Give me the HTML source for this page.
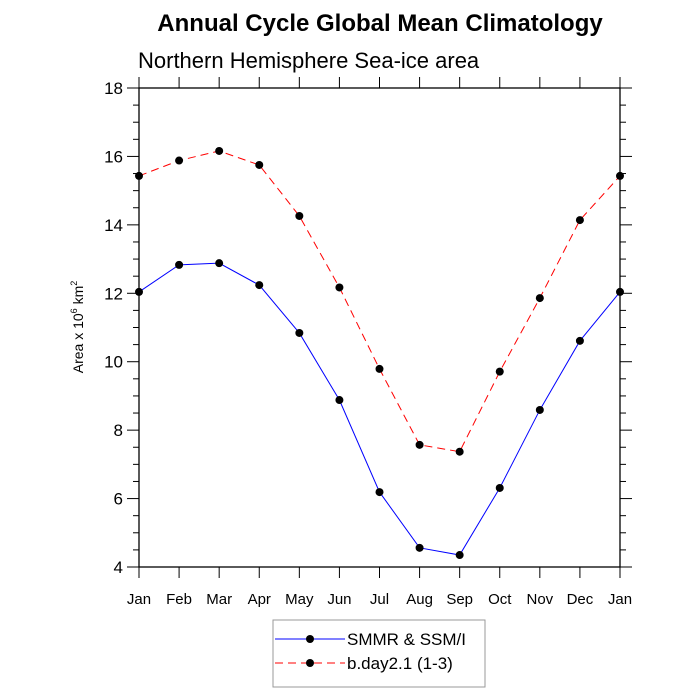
<!DOCTYPE html>
<html><head><meta charset="utf-8"><style>
html,body{margin:0;padding:0;background:#fff;}
svg{display:block;font-family:"Liberation Sans",sans-serif;}
</style></head><body>
<svg id="chart" width="700" height="700" viewBox="0 0 700 700" xmlns="http://www.w3.org/2000/svg">
<text x="380" y="31" text-anchor="middle" font-size="24" font-weight="bold">Annual Cycle Global Mean Climatology</text>
<text x="138" y="68" font-size="22">Northern Hemisphere Sea-ice area</text>
<text transform="translate(83,327) rotate(-90)" text-anchor="middle" font-size="14">Area x 10<tspan font-size="9" dy="-6">6</tspan><tspan dy="6"> km</tspan><tspan font-size="9" dy="-6">2</tspan></text>
<g id="axes"></g>
<g id="series"></g>
<g>
<rect x="273" y="620" width="212" height="67" fill="#fff" stroke="#999" stroke-width="1"/>
<line x1="275" y1="639" x2="345" y2="639" stroke="#0000ff" stroke-width="1"/>
<circle cx="310" cy="639" r="4" fill="#000"/>
<text x="347" y="645" font-size="17">SMMR &amp; SSM/I</text>
<line x1="275" y1="663" x2="345" y2="663" stroke="#ff0000" stroke-width="1" stroke-dasharray="8,5"/>
<circle cx="310" cy="663" r="4" fill="#000"/>
<text x="347" y="669" font-size="17">b.day2.1 (1-3)</text>
</g>
</svg>
<script>
const months = ["Jan","Feb","Mar","Apr","May","Jun","Jul","Aug","Sep","Oct","Nov","Dec","Jan"];
const obsValues = [12.04,12.83,12.88,12.24,10.84,8.88,6.19,4.56,4.35,6.31,8.59,10.61,12.04];
const modelValues = [15.43,15.88,16.16,15.75,14.26,12.17,9.79,7.57,7.37,9.71,11.86,14.14,15.43];
const yTicks = [4,6,8,10,12,14,16,18];

const NS="http://www.w3.org/2000/svg";
const L=139,R=620,T=88,B=567,yMin=4,yMax=18;
const xs=i=>L+(R-L)*i/(months.length-1);
const ys=v=>B-(B-T)*(v-yMin)/(yMax-yMin);
function mk(tag,attrs,parent){const e=document.createElementNS(NS,tag);for(const k in attrs)e.setAttribute(k,attrs[k]);parent.appendChild(e);return e;}
const ax=document.getElementById('axes');
const frame=mk('rect',{x:L,y:T,width:R-L,height:B-T,fill:'none',stroke:'#000','stroke-width':1.3},ax);


for(let v=yMin;v<=yMax+1e-9;v+=0.5){
  const major=Math.abs(v-Math.round(v/2)*2)<1e-9;const len=major?12:6;const y=ys(v);
  mk('line',{x1:L-len,y1:y,x2:L,y2:y,stroke:'#000','stroke-width':1},ax);
  mk('line',{x1:R,y1:y,x2:R+len,y2:y,stroke:'#000','stroke-width':1},ax);
}
yTicks.forEach(v=>{const t=mk('text',{x:L-16,y:ys(v)+6,'text-anchor':'end','font-size':17},ax);t.textContent=v;

});
months.forEach((m,i)=>{const x=xs(i);
  mk('line',{x1:x,y1:B,x2:x,y2:B+11,stroke:'#000','stroke-width':1},ax);
  mk('line',{x1:x,y1:T-11,x2:x,y2:T,stroke:'#000','stroke-width':1},ax);
  const t=mk('text',{x:x,y:604,'text-anchor':'middle','font-size':15},ax);t.textContent=m;
  
  });
const sg=document.getElementById('series');
function series(vals,color,dash,name){
  const p=mk('polyline',{points:vals.map((v,i)=>xs(i)+','+ys(v)).join(' '),fill:'none',stroke:color,'stroke-width':1,'stroke-dasharray':dash},sg);
  
  
  vals.forEach((v,i)=>{const c=mk('circle',{cx:xs(i),cy:ys(v),r:4,fill:'#000'},sg);
    
    });
}
series(modelValues,'#ff0000','8,5','model');
series(obsValues,'#0000ff','none','obs');
</script>
</body></html>
